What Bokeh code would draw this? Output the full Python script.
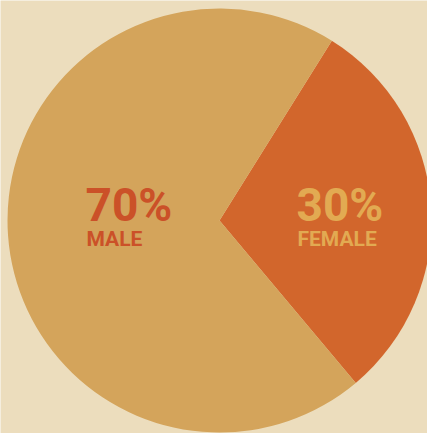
import math
from bokeh.plotting import figure
from bokeh.embed import file_html
from bokeh.resources import INLINE
from bokeh.core.properties import value
from bokeh.models import ColumnDataSource

# ---- data ----
categories = ["FEMALE", "MALE"]
shares = [30, 70]
pct_labels = ["30%", "70%"]

# ---- styling / layout ----
W, H = 427, 433
BG = "#ECDDBD"
slice_colors = ["#D2662C", "#D4A45B"]
label_colors = ["#E2AA52", "#CB5128"]
FONT = "Roboto"
CX, CY, R = 219, 213, 212
START = math.radians(-50)

total = sum(shares)
starts, ends = [], []
acc = START
for s in shares:
    starts.append(acc)
    acc += 2 * math.pi * s / total
    ends.append(acc)

src = ColumnDataSource(dict(cat=categories, share=shares, start=starts, end=ends,
                            color=slice_colors))

p = figure(width=W, height=H, x_range=(0, W), y_range=(0, H),
           output_backend="svg", toolbar_location=None, min_border=0)
p.axis.visible = False
p.grid.visible = False
p.outline_line_color = None
p.background_fill_color = BG
p.border_fill_color = BG

p.wedge(x=CX, y=CY, radius=R, start_angle="start", end_angle="end",
        fill_color="color", line_color=None, source=src)

# label anchors (left, baseline) for each slice
label_pos = {"FEMALE": (296, 229), "MALE": (85, 229)}
for cat, pct, col in zip(categories, pct_labels, label_colors):
    lx, ly = label_pos[cat]
    p.text(x=[lx], y=[ly], text=[pct], text_color=col, text_font=value(FONT),
           text_font_size="46px", text_font_style="bold",
           text_baseline="alphabetic", text_align="left")
    p.text(x=[lx + 1], y=[ly - 34], text=[cat], text_color=col, text_font=value(FONT),
           text_font_size="21px", text_font_style="bold",
           text_baseline="alphabetic", text_align="left")

open("out.html", "w").write(file_html(p, INLINE))
